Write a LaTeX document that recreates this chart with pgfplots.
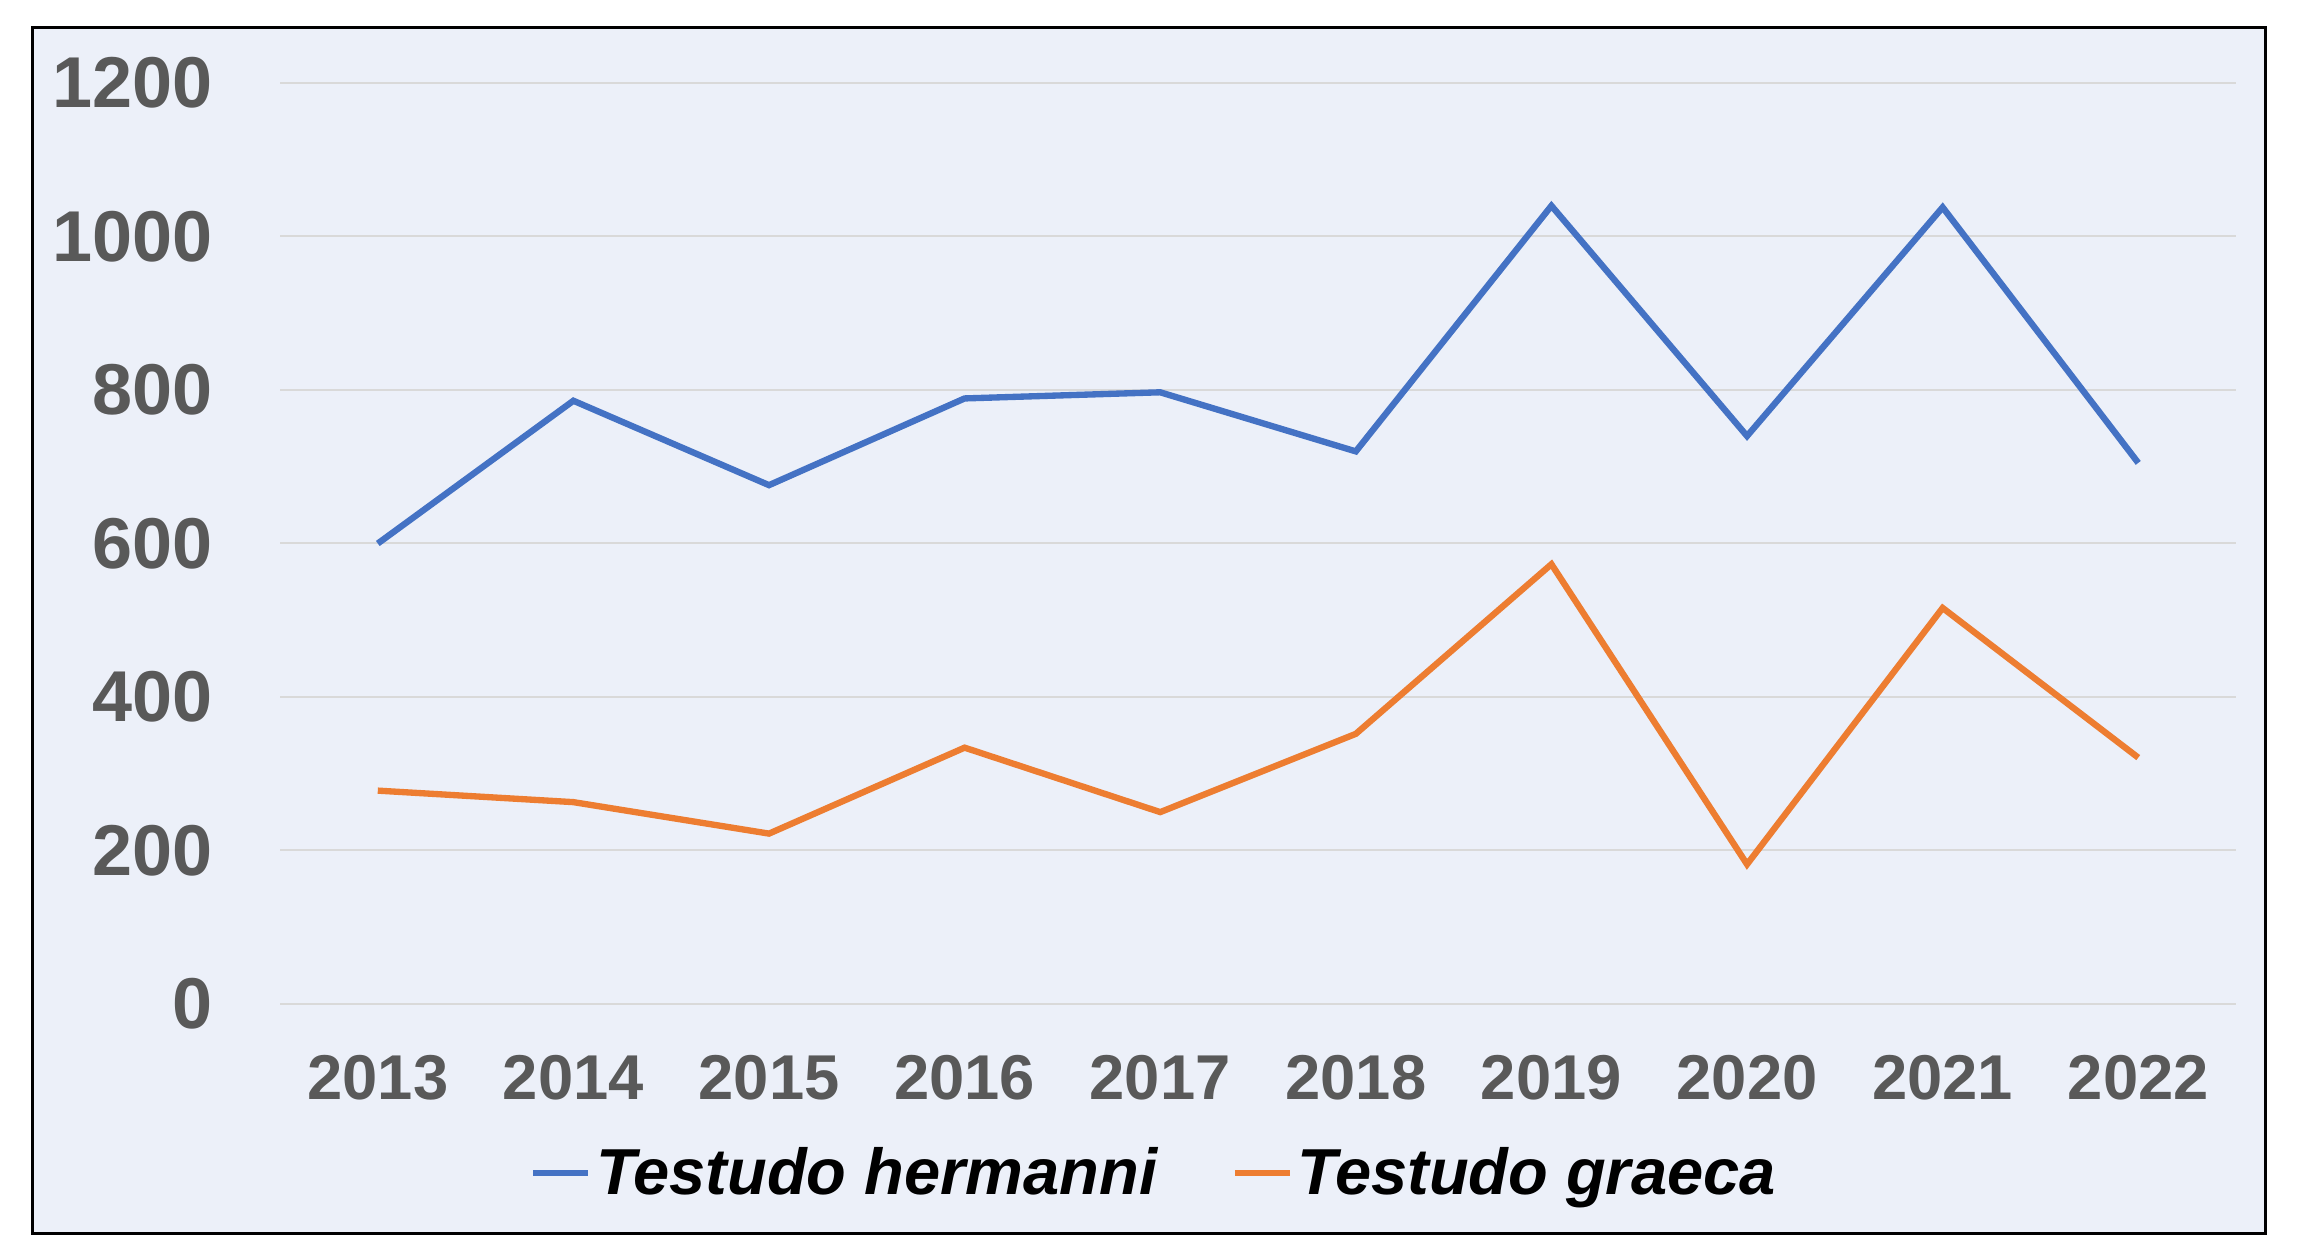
\documentclass[border=0pt]{standalone}
\usepackage{pgfplots}
\pgfplotsset{compat=1.18}
\usepackage{fontspec}
\setmainfont{Liberation Sans}
\definecolor{bgblue}{HTML}{ECF0F9}
\definecolor{tickgray}{HTML}{595959}
\definecolor{gridgray}{HTML}{D9D9D9}
\definecolor{hblue}{HTML}{4472C4}
\definecolor{gorange}{HTML}{ED7D31}
\begin{document}
\begin{tikzpicture}
\fill[white] (0pt,0pt) rectangle (689.7pt,374.4pt);
\draw[fill=bgblue, line width=0.9pt] (9.6pt,4.5pt) rectangle (679.5pt,366pt);
\begin{axis}[
  at={(84pt,73.2pt)}, anchor=south west,
  scale only axis, width=586.8pt, height=276.3pt,
  xmin=-0.5, xmax=9.5, ymin=0, ymax=1200,
  xtick={0,...,9},
  xticklabels={2013,2014,2015,2016,2017,2018,2019,2020,2021,2022},
  ytick={0,200,...,1200},
  /pgf/number format/assume math mode=true,
  /pgf/number format/1000 sep={},
  ymajorgrids, grid style={gridgray, line width=0.6pt},
  axis line style={draw=none},
  major tick length=0pt,
  yticklabel style={font=\fontsize{21.6}{24}\selectfont\bfseries, text=tickgray, anchor=east, inner sep=0pt, xshift=-20pt},
  xticklabel style={font=\fontsize{19}{22}\selectfont\bfseries, text=tickgray, anchor=north, inner sep=0pt, yshift=-15.3pt},
  legend columns=2,
  legend style={draw=none, fill=none, at={(0.4475,-0.1835)}, anchor=center,
    font=\fontsize{19.5}{22}\selectfont\bfseries\itshape,
    nodes={inner sep=1.4pt},
    /tikz/every even column/.append style={column sep=21pt}},
  legend image code/.code={\draw[#1] (0pt,0pt) -- (16.5pt,0pt);},
]
\addplot[hblue, line width=1.9pt] coordinates {
(0,600) (1,786) (2,676) (3,789) (4,797) (5,720) (6,1040) (7,740) (8,1038) (9,705)};
\addlegendentry{Testudo hermanni}
\addplot[gorange, line width=1.9pt] coordinates {
(0,278) (1,263) (2,222) (3,334) (4,250) (5,352) (6,573) (7,182) (8,516) (9,321)};
\addlegendentry{Testudo graeca}
\end{axis}
\end{tikzpicture}
\end{document}
